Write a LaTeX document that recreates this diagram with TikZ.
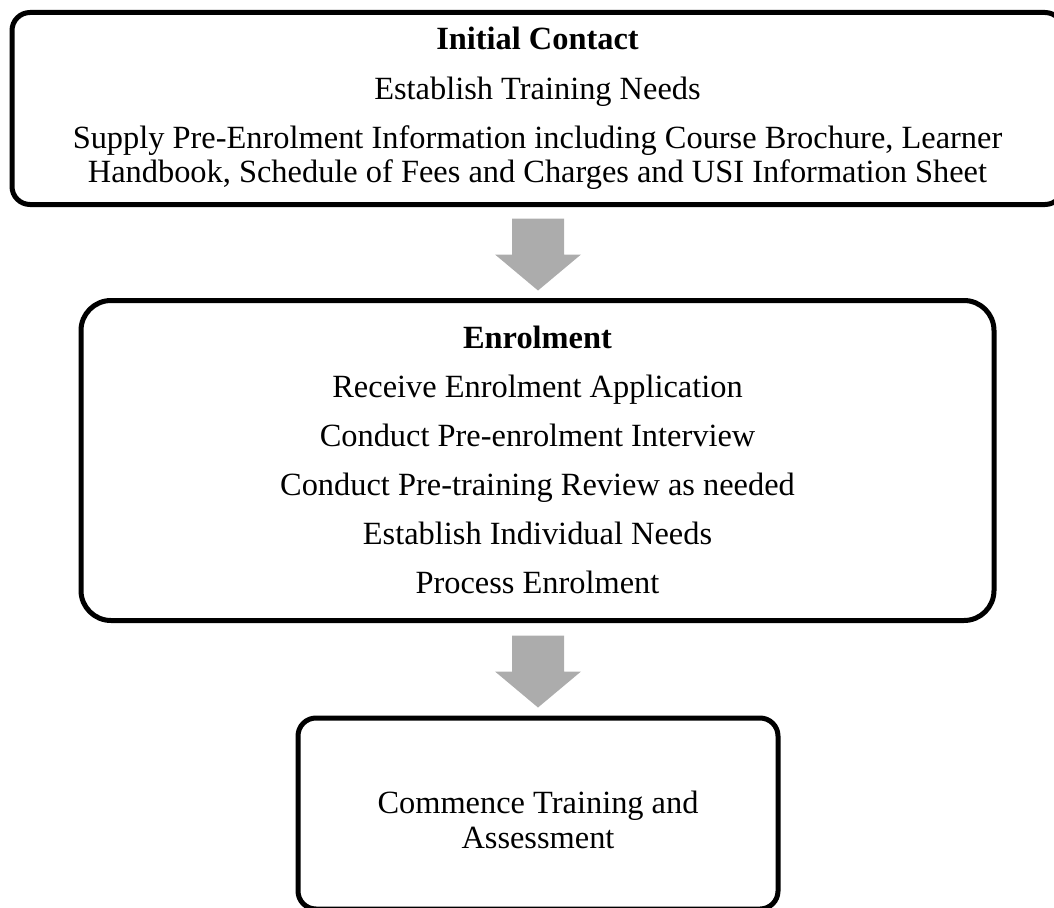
\documentclass[tikz,border=0pt]{standalone}
\usepackage{fontspec}
\setmainfont{Liberation Serif}
\usetikzlibrary{calc}
\begin{document}
\begin{tikzpicture}[x=1pt,y=-1pt,
  stagebox/.style={draw=black,line width=5pt,rounded corners=#1,inner sep=0pt,fill=none},
  stagebox/.default=18pt,
  line/.style={anchor=base,inner sep=0pt,font=\fontsize{32.4}{34}\selectfont},
  head/.style={line,font=\fontsize{32.4}{34}\selectfont\bfseries},
  flow/.style={fill=gray!65,draw=none}]
\useasboundingbox (0,0) rectangle (1054,907);

% stage boxes
\node[stagebox, minimum width=1051pt, minimum height=192pt] (contact) at (537.5,108.5) {};
\node[stagebox=30pt, minimum width=913pt, minimum height=320pt] (enrol) at (537.5,460.5) {};
\node[stagebox, minimum width=480pt, minimum height=191pt] (commence) at (538,813.5) {};

% texts of the first stage
\node[head] (t1) at (537.5,50) {Initial Contact};
\node[line] (t2) at (537.5,99) {Establish Training Needs};
\node[line] (t3) at (537.5,148) {Supply Pre-Enrolment Information including Course Brochure, Learner};
\node[line] (t4) at (537.5,182) {Handbook, Schedule of Fees and Charges and USI Information Sheet};

% texts of the second stage
\node[head] (e1) at (537.5,348) {Enrolment};
\node[line] (e2) at (537.5,397) {Receive Enrolment Application};
\node[line] (e3) at (537.5,446) {Conduct Pre-enrolment Interview};
\node[line] (e4) at (537.5,495) {Conduct Pre-training Review as needed};
\node[line] (e5) at (537.5,544) {Establish Individual Needs};
\node[line] (e6) at (537.5,593) {Process Enrolment};

% texts of the third stage
\node[line] (c1) at (538,813) {Commence Training and};
\node[line] (c2) at (538,848) {Assessment};

% block arrows between the stages
\fill[flow] ($(contact.south)+(-25.5,11.5)$) -- ++(52,0) -- ++(0,36) -- ++(17,0)
  -- ($(contact.south)+(0.5,83.5)$) -- ($(contact.south)+(-42.5,47.5)$) -- ++(17,0) -- cycle;
\fill[flow] ($(enrol.south)+(-25.5,12.5)$) -- ++(52,0) -- ++(0,36) -- ++(17,0)
  -- ($(enrol.south)+(0.5,84.5)$) -- ($(enrol.south)+(-42.5,48.5)$) -- ++(17,0) -- cycle;
\end{tikzpicture}
\end{document}
